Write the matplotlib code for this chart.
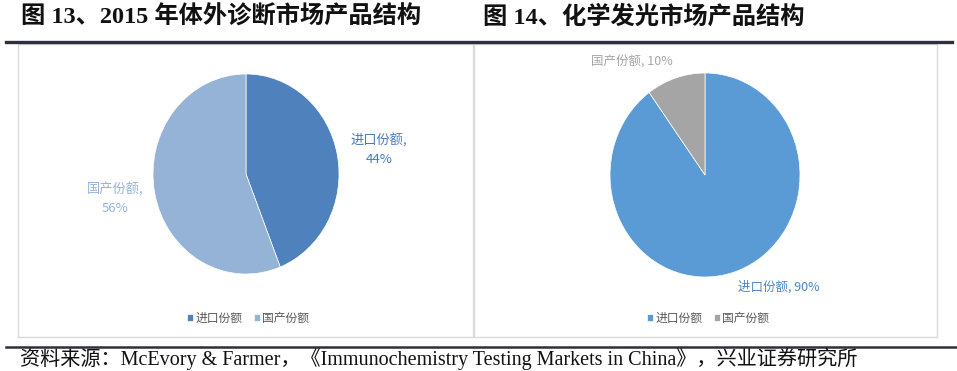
import matplotlib
matplotlib.use("Agg")
import matplotlib.pyplot as plt
from matplotlib.lines import Line2D
from matplotlib.patches import Rectangle

plt.rcParams['font.family'] = ['Noto Sans CJK SC', 'DejaVu Sans']

# data
titles = ["图 13、2015 年体外诊断市场产品结构", "图 14、化学发光市场产品结构"]
labels = ["进口份额", "国产份额"]
ivd_share = [44, 56]
chemi_share = [90, 10]
ivd_colors = ["#4F81BD", "#95B3D7"]
chemi_colors = ["#5B9BD5", "#A5A5A5"]
source = "资料来源：McEvory & Farmer，《Immunochemistry Testing Markets in China》，兴业证券研究所"

W, H = 957, 371
fig = plt.figure(figsize=(W / 100, H / 100), dpi=100)


def fx(x):
    return x / W


def fy(y):
    return 1 - y / H


# titles
serif = ['Liberation Serif', 'Noto Sans CJK SC']
fig.text(fx(21), fy(17), titles[0], fontsize=17.5, fontweight='bold',
         family=serif, va='center', ha='left', color='#111111')
fig.text(fx(483), fy(17), titles[1], fontsize=17.5, fontweight='bold',
         family=serif, va='center', ha='left', color='#111111')

# thick rules
fig.add_artist(Line2D([fx(6), fx(952)], [fy(42), fy(42)], lw=2.4, color='#2E2E3C'))
fig.add_artist(Line2D([fx(6), fx(957)], [fy(346.5), fy(346.5)], lw=1.8, color='#2E2E3C'))

# panel frames
for x0, x1 in [(18, 473), (474, 937)]:
    fig.add_artist(Rectangle((fx(x0), fy(337)), fx(x1) - fx(x0), fy(44) - fy(337),
                             fill=False, edgecolor='#D9D9D9', lw=1.0))


def pie_panel(cx, cy, rx, ry, values, colors):
    ax = fig.add_axes([fx(cx - rx), fy(cy + ry), (2 * rx) / W, (2 * ry) / H])
    wedges, _ = ax.pie(values, colors=colors, startangle=90, counterclock=False,
                       wedgeprops=dict(edgecolor='white', linewidth=0.5))
    ax.set_aspect('auto')
    ax.set_xlim(-1, 1)
    ax.set_ylim(-1, 1)
    ax.axis('off')
    return wedges


w1 = pie_panel(246, 174, 93, 100, ivd_share, ivd_colors)
w2 = pie_panel(705, 175, 95, 102, chemi_share, chemi_colors)

# data labels
fig.text(fx(379), fy(150), labels[0] + ",\n" + str(ivd_share[0]) + "%", fontsize=9.5,
         color='#4A7AB5', ha='center', va='center', linespacing=1.5)
fig.text(fx(115), fy(199), labels[1] + ",\n" + str(ivd_share[1]) + "%", fontsize=9.5,
         color='#95B3D7', ha='center', va='center', linespacing=1.5)
fig.text(fx(632), fy(62), labels[1] + ", " + str(chemi_share[1]) + "%", fontsize=9,
         color='#A5A5A5', ha='center', va='center')
fig.text(fx(779), fy(287), labels[0] + ", " + str(chemi_share[0]) + "%", fontsize=9,
         color='#4A86C5', ha='center', va='center')

# legends
for wedges, xc in [(w1, 248), (w2, 708)]:
    fig.legend(wedges, labels, loc='center', bbox_to_anchor=(fx(xc), fy(318)),
               ncol=2, frameon=False, fontsize=8.5, handlelength=0.5, handleheight=0.5,
               handletextpad=0.2, columnspacing=1.0, labelcolor='#595959')

# source note
fig.text(fx(20), fy(359), source, fontsize=14.5, family=serif, va='center', ha='left',
         color='#111111')

fig.savefig("out.png", dpi=100, facecolor='white')
